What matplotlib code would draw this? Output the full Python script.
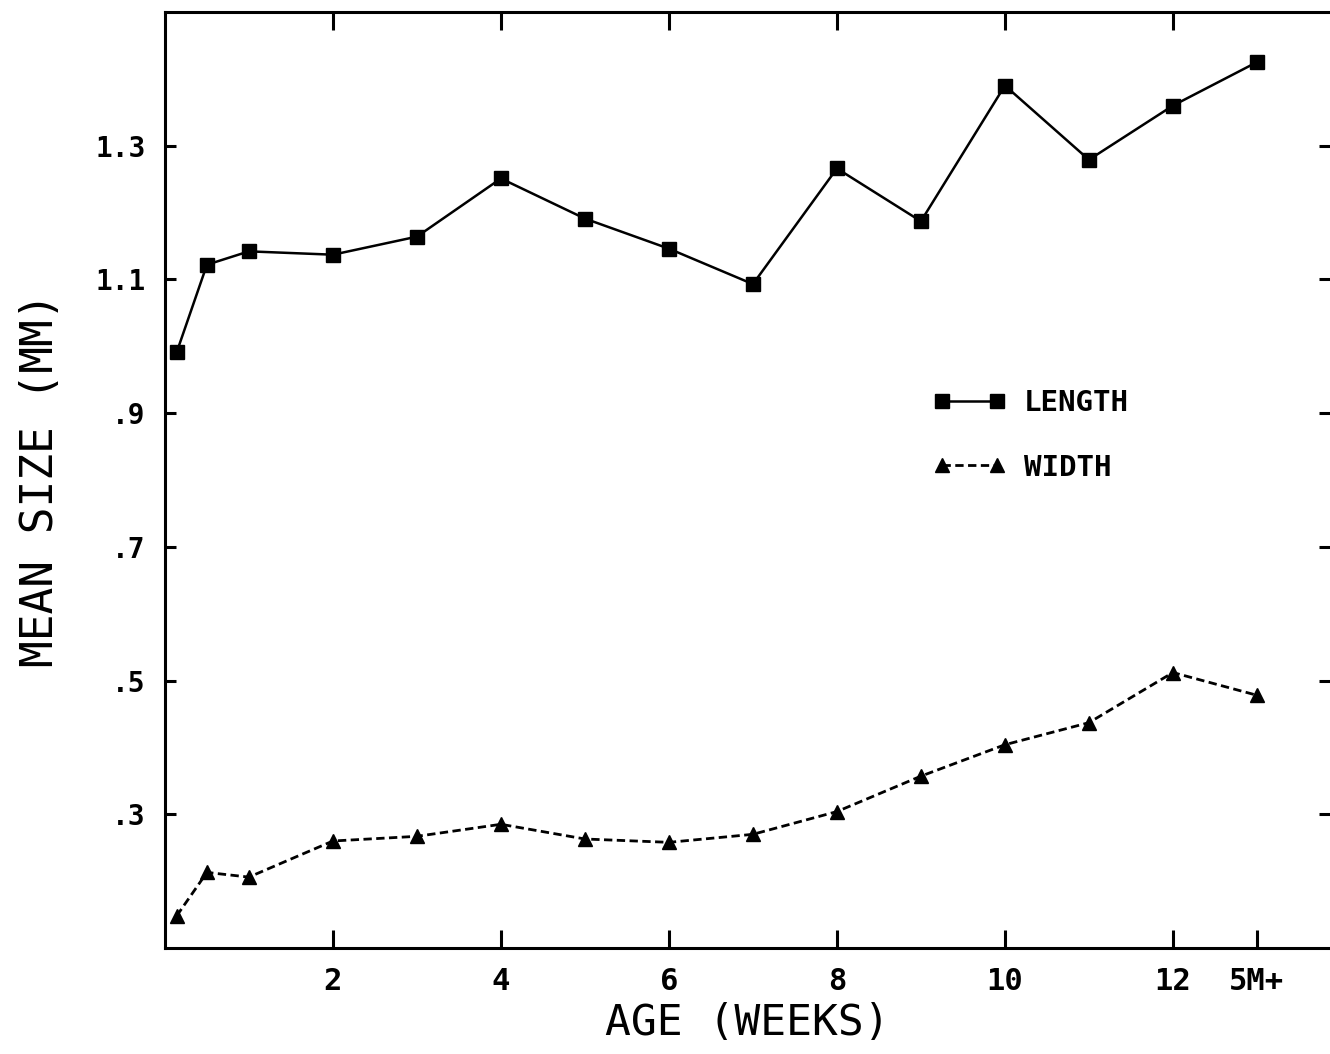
import matplotlib
matplotlib.use("Agg")
import matplotlib.pyplot as plt

# age in weeks (13 = 5 months +)
age = [0.14, 0.5, 1, 2, 3, 4, 5, 6, 7, 8, 9, 10, 11, 12, 13]
length = [0.991, 1.122, 1.142, 1.137, 1.164, 1.251, 1.191, 1.146, 1.093,
          1.266, 1.187, 1.390, 1.279, 1.360, 1.425]
width = [0.148, 0.213, 0.206, 0.260, 0.267, 0.285, 0.263, 0.258, 0.270,
         0.304, 0.357, 0.404, 0.437, 0.512, 0.478]

xticks = [2, 4, 6, 8, 10, 12, 13]
xticklabels = ["2", "4", "6", "8", "10", "12", "5M+"]
yticks = [0.3, 0.5, 0.7, 0.9, 1.1, 1.3]
yticklabels = [".3", ".5", ".7", ".9", "1.1", "1.3"]

mono = "DejaVu Sans Mono"

fig = plt.figure(figsize=(13.3, 10.54), dpi=100)
ax = fig.add_axes([0.124, 0.1006, 0.876, 0.888])

ax.plot(age, length, color="black", lw=1.8, marker="s", markersize=10.5,
        label="LENGTH")
ax.plot(age, width, color="black", lw=2.0, ls=(0, (3, 1.6)), marker="^",
        markersize=10.5, label="WIDTH")

ax.set_xlim(0, 13.87)
ax.set_ylim(0.1, 1.5)

ax.set_xticks(xticks)
ax.set_xticklabels(xticklabels, fontsize=22, fontweight="bold", family=mono)
ax.set_yticks(yticks)
ax.set_yticklabels(yticklabels, fontsize=20, fontweight="bold", family=mono)

ax.tick_params(axis="both", direction="in", length=13, width=2.2, pad=14)
ax.tick_params(axis="y", right=True, length=8)

# top ticks only at the even weeks
top = ax.secondary_xaxis("top")
top.set_xticks(xticks[:-1])
top.set_xticklabels([])
top.tick_params(direction="in", length=13, width=2.2)
top.spines["top"].set_visible(False)

for side in ["left", "bottom", "top"]:
    ax.spines[side].set_linewidth(2.2)
ax.spines["right"].set_visible(False)

ax.set_xlabel("AGE (WEEKS)", fontsize=31, family=mono, labelpad=4)
ax.set_ylabel("MEAN SIZE (MM)", fontsize=32, family=mono, labelpad=24)

ax.legend(loc="upper left", bbox_to_anchor=(0.637, 0.625), frameon=False,
          numpoints=2, handlelength=2.5, handletextpad=0.6, labelspacing=1.25,
          prop={"family": mono, "weight": "bold", "size": 21})

fig.savefig("out.png", dpi=100)
